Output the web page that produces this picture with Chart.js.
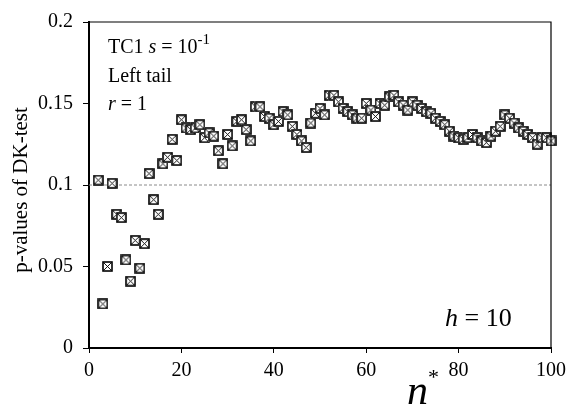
<!DOCTYPE html>
<html>
<head>
<meta charset="utf-8">
<script src="https://cdn.jsdelivr.net/npm/chart.js@4.4.1/dist/chart.umd.min.js"></script>
<style>
  body { margin: 0; background: #fff; }
  #wrap { width: 572px; height: 407px; }
</style>
</head>
<body>
<div id="wrap"><canvas id="chart"></canvas></div>
<script>
// n* values on the x axis
const nStar = [2, 3, 4, 5, 6, 7, 8, 9, 10, 11, 12, 13, 14, 15, 16, 17, 18, 19, 20,
  21, 22, 23, 24, 25, 26, 27, 28, 29, 30, 31, 32, 33, 34, 35, 36, 37, 38, 39, 40,
  41, 42, 43, 44, 45, 46, 47, 48, 49, 50, 51, 52, 53, 54, 55, 56, 57, 58, 59, 60,
  61, 62, 63, 64, 65, 66, 67, 68, 69, 70, 71, 72, 73, 74, 75, 76, 77, 78, 79, 80,
  81, 82, 83, 84, 85, 86, 87, 88, 89, 90, 91, 92, 93, 94, 95, 96, 97, 98, 99, 100];

// p-values of DK-test
const pValues = [0.103, 0.027, 0.050, 0.101, 0.082, 0.080, 0.054, 0.041, 0.066, 0.049,
  0.064, 0.107, 0.091, 0.082, 0.113, 0.117, 0.128, 0.115, 0.140,
  0.135, 0.134, 0.135, 0.137, 0.129, 0.132, 0.130, 0.121, 0.113, 0.131,
  0.124, 0.139, 0.140, 0.134, 0.127, 0.148, 0.148, 0.142, 0.141, 0.137,
  0.139, 0.145, 0.143, 0.136, 0.131, 0.127, 0.123, 0.138, 0.144, 0.147,
  0.143, 0.155, 0.155, 0.151, 0.147, 0.145, 0.143, 0.141, 0.141, 0.150,
  0.146, 0.142, 0.150, 0.149, 0.154, 0.155, 0.151, 0.149, 0.146, 0.151,
  0.149, 0.147, 0.145, 0.144, 0.141, 0.139, 0.137, 0.133, 0.130, 0.129,
  0.128, 0.129, 0.131, 0.129, 0.127, 0.126, 0.130, 0.133, 0.136, 0.143,
  0.141, 0.138, 0.135, 0.133, 0.131, 0.129, 0.125, 0.129, 0.129, 0.127];

const refLevel = 0.1;
const xTicks = [0, 20, 40, 60, 80, 100];
const yTicks = [0, 0.05, 0.1, 0.15, 0.2];

const SERIF = '"Liberation Serif", "DejaVu Serif", serif';

// square with an X inside, used as the point marker
function boxCross(size) {
    const c = document.createElement('canvas');
    c.width = size; c.height = size;
    const g = c.getContext('2d');
    g.fillStyle = '#fff';
    g.fillRect(0, 0, size, size);
    g.strokeStyle = '#000';
    g.lineWidth = 1.6;
    g.strokeRect(1, 1, size - 2, size - 2);
    g.lineWidth = 0.9;
    g.beginPath();
    g.moveTo(2, 2); g.lineTo(size - 2, size - 2);
    g.moveTo(size - 2, 2); g.lineTo(2, size - 2);
    g.stroke();
    return c;
}

// draw a run of text pieces [text, italic, size, raise]
function drawRuns(ctx, x, y, runs) {
    runs.forEach(r => {
        ctx.font = (r[1] ? 'italic ' : '') + r[2] + 'px ' + SERIF;
        ctx.fillText(r[0], x, y - (r[3] || 0));
        x += ctx.measureText(r[0]).width;
    });
}

const labelsPlugin = {
    id: 'labels',
    afterDraw(chart) {
        const ctx = chart.ctx;
        const a = chart.chartArea;
        ctx.save();
        // frame top and right
        ctx.strokeStyle = '#000';
        ctx.lineWidth = 1.2;
        ctx.beginPath();
        ctx.moveTo(a.left, a.top);
        ctx.lineTo(a.right, a.top);
        ctx.lineTo(a.right, a.bottom);
        ctx.stroke();

        ctx.fillStyle = '#000';
        ctx.textBaseline = 'alphabetic';
        ctx.textAlign = 'left';
        drawRuns(ctx, 108, 53, [['TC1 ', false, 20], ['s', true, 20], [' = 10', false, 20], ['-1', false, 15, 9]]);
        drawRuns(ctx, 108, 82, [['Left tail', false, 20]]);
        drawRuns(ctx, 108, 110, [['r', true, 20], [' = 1', false, 20]]);
        drawRuns(ctx, 445, 326, [['h', true, 26], [' = 10', false, 26]]);

        // x axis title n*
        drawRuns(ctx, 407, 404, [['n', true, 42], ['*', false, 22, 20]]);

        // y axis title
        ctx.translate(27, 190);
        ctx.rotate(-Math.PI / 2);
        ctx.textAlign = 'center';
        ctx.font = '21px ' + SERIF;
        ctx.fillText('p-values of DK-test', 0, 0);
        ctx.restore();
    }
};

const points = nStar.map((n, i) => ({ x: n, y: pValues[i] }));

new Chart(document.getElementById('chart'), {
    type: 'scatter',
    data: {
        datasets: [
            {
                label: 'p-value',
                data: points,
                pointStyle: boxCross(11),
                pointRadius: 6,
                clip: false,
                order: 1
            },
            {
                type: 'line',
                label: 'ref',
                data: [{ x: 0, y: refLevel }, { x: 100, y: refLevel }],
                borderColor: '#8a8a8a',
                borderWidth: 1,
                borderDash: [3, 2],
                pointRadius: 0,
                order: 2
            }
        ]
    },
    options: {
        responsive: true,
        maintainAspectRatio: false,
        animation: false,
        layout: { padding: { top: 15, right: 19, bottom: 0, left: 0 } },
        plugins: { legend: { display: false }, tooltip: { enabled: false } },
        scales: {
            x: {
                type: 'linear',
                min: 0, max: 100,
                afterBuildTicks: s => { s.ticks = xTicks.map(v => ({ value: v })); },
                afterFit: s => { s.height = 59; },
                ticks: { color: '#000', font: { family: SERIF, size: 20 }, padding: 6, maxRotation: 0 },
                grid: { drawOnChartArea: false, drawTicks: true, tickLength: 5, color: '#000', lineWidth: 1 },
                border: { color: '#000', width: 2 }
            },
            y: {
                min: 0, max: 0.2,
                afterBuildTicks: s => { s.ticks = yTicks.map(v => ({ value: v })); },
                afterFit: s => { s.width = 89; },
                ticks: {
                    color: '#000', font: { family: SERIF, size: 20 }, padding: 10,
                    callback: v => String(+v.toFixed(2))
                },
                grid: { drawOnChartArea: false, drawTicks: true, tickLength: 6, color: '#000', lineWidth: 1 },
                border: { color: '#000', width: 2 }
            }
        }
    },
    plugins: [labelsPlugin]
});
</script>
</body>
</html>
